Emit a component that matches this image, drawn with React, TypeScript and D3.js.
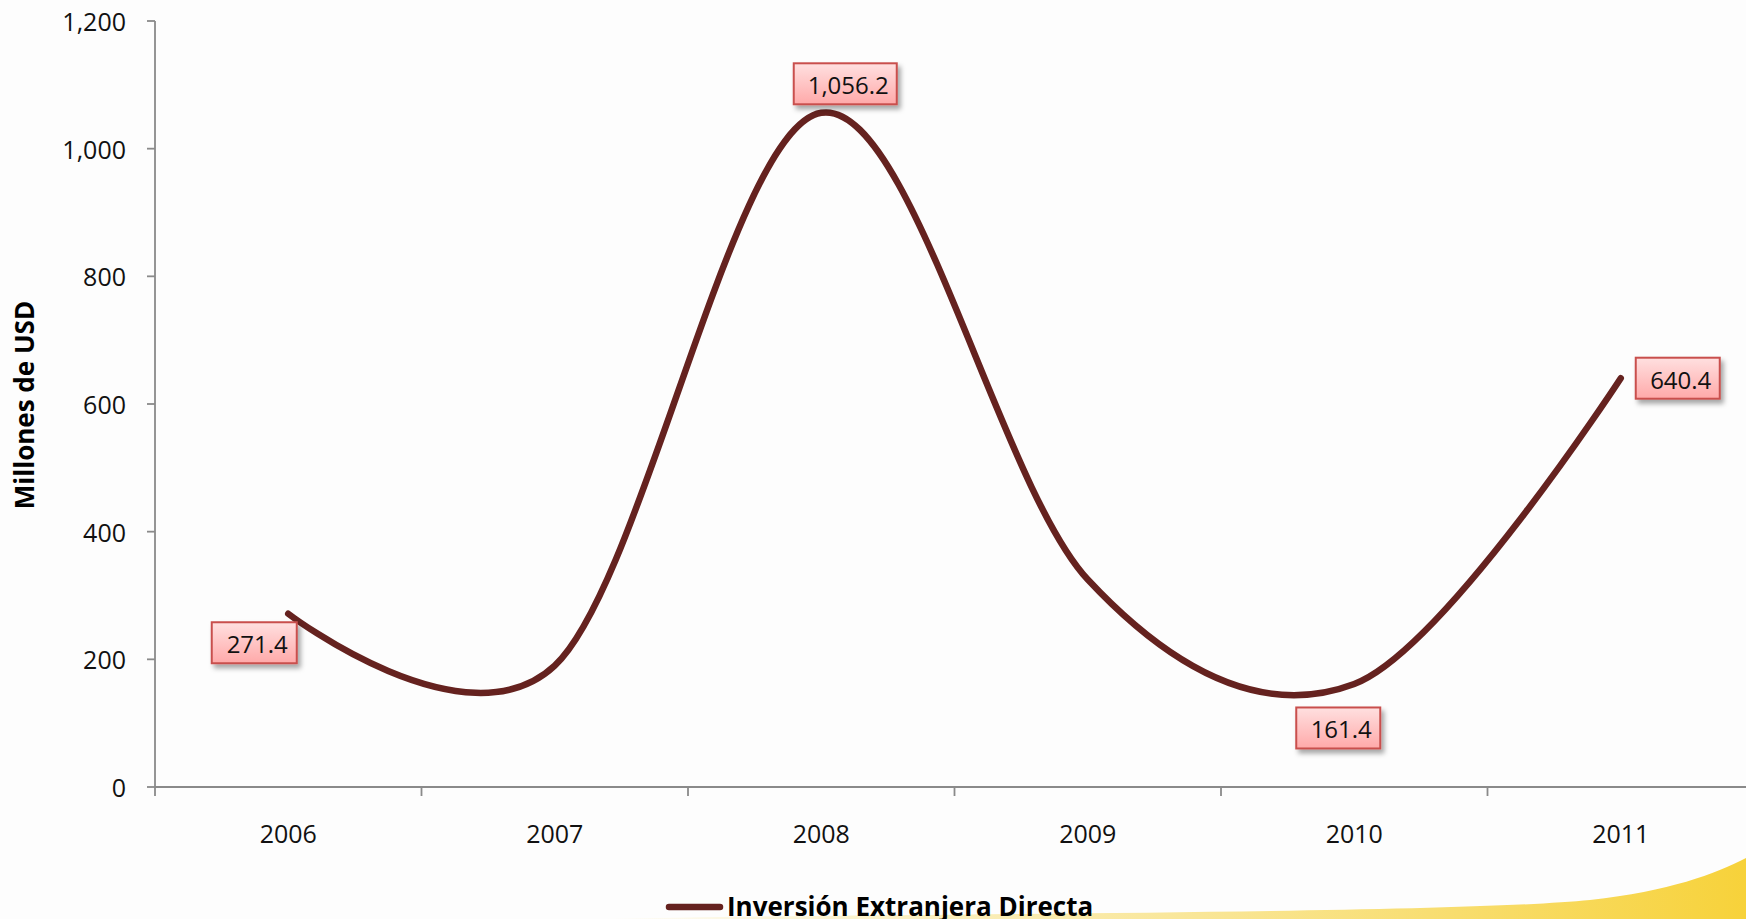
import React from "react";
import * as d3 from "d3";

const years = ["2006", "2007", "2008", "2009", "2010", "2011"];
const ied = [271.4, 190, 1056.2, 325, 161.4, 640.4];
const labeled = [true, false, true, false, true, true];
const yTicks = [0, 200, 400, 600, 800, 1000, 1200];
const seriesName = "Inversión Extranjera Directa";
const yTitle = "Millones de USD";

// label box layout (offset of box centre from point, box width)
const labelLayout = [
  { dx: -34, dy: 29, w: 85 },
  { dx: 0, dy: 0, w: 0 },
  { dx: 24, dy: -29, w: 103 },
  { dx: 0, dy: 0, w: 0 },
  { dx: -16, dy: 44, w: 84 },
  { dx: 57, dy: 0, w: 84 },
];

const W = 1746;
const H = 919;
const FONT = "'Open Sans', 'Noto Sans', sans-serif";
const LINE = "#65221f";
const AXIS = "#8a8a8a";

export default function App() {
  const x = d3.scaleBand<string>().domain(years).range([155, 155 + 6 * 266.5]).paddingInner(0).paddingOuter(0);
  const y = d3.scaleLinear().domain([0, 1200]).range([787, 21]);
  const cx = (i: number) => (x(years[i]) as number) + x.bandwidth() / 2;
  const line = d3
    .line<number>()
    .x((_, i) => cx(i))
    .y((d) => y(d))
    .curve(d3.curveCardinal.tension(0));
  const fmt = d3.format(",.1f");
  const tickFmt = d3.format(",");
  const x0 = x.range()[0];

  return (
    <svg width={W} height={H} style={{ position: "absolute", left: 0, top: 0, display: "block" }}>
      <defs>
        <linearGradient id="boxg" x1="0" y1="0" x2="0" y2="1">
          <stop offset="0" stopColor="#ffe0e0" />
          <stop offset="1" stopColor="#ffa9a9" />
        </linearGradient>
        <linearGradient id="yellow" x1="0" y1="0" x2="1" y2="0">
          <stop offset="0" stopColor="#f6d544" stopOpacity="0" />
          <stop offset="0.35" stopColor="#f6d85a" stopOpacity="0.45" />
          <stop offset="1" stopColor="#f7d23a" stopOpacity="1" />
        </linearGradient>
        <filter id="shadow" x="-20%" y="-20%" width="150%" height="160%">
          <feDropShadow dx="3" dy="4" stdDeviation="2.5" floodColor="#000" floodOpacity="0.35" />
        </filter>
      </defs>
      <rect x={0} y={0} width={W} height={H} fill="#fdfdfd" />
      <path
        d="M 600 919 C 900 913, 1450 914, 1590 900 C 1670 891, 1715 874, 1746 858 L 1746 919 Z"
        fill="url(#yellow)"
      />

      {/* Y axis */}
      <line x1={x0} x2={x0} y1={y(1200)} y2={y(0)} stroke={AXIS} strokeWidth={1.8} />
      {yTicks.map((t) => (
        <g key={t}>
          <line x1={x0 - 8} x2={x0} y1={y(t)} y2={y(t)} stroke={AXIS} strokeWidth={1.8} />
          <text
            x={126}
            y={y(t)}
            textAnchor="end"
            dominantBaseline="central"
            fontFamily={FONT}
            fontSize={25}
            fill="#111"
          >
            {tickFmt(t)}
          </text>
        </g>
      ))}

      {/* X axis */}
      <line x1={x0} x2={W} y1={y(0)} y2={y(0)} stroke={AXIS} strokeWidth={1.8} />
      {years.map((yr, i) => (
        <g key={yr}>
          <line
            x1={x(yr) as number}
            x2={x(yr) as number}
            y1={y(0)}
            y2={y(0) + 9}
            stroke={AXIS}
            strokeWidth={1.8}
          />
          <text x={cx(i)} y={833} textAnchor="middle" dominantBaseline="central" fontFamily={FONT} fontSize={25} fill="#111">
            {yr}
          </text>
        </g>
      ))}

      {/* Y title */}
      <text
        transform={`translate(24,405) rotate(-90)`}
        textAnchor="middle"
        dominantBaseline="central"
        fontFamily={FONT}
        fontWeight="bold"
        fontSize={26}
        fill="#000"
      >
        {yTitle}
      </text>

      {/* Series line */}
      <path d={line(ied) || ""} fill="none" stroke={LINE} strokeWidth={6.5} strokeLinecap="round" />

      {/* Data labels */}
      {ied.map((v, i) => {
        if (!labeled[i]) return null;
        const L = labelLayout[i];
        const bx = cx(i) + L.dx;
        const by = y(v) + L.dy;
        const h = 41;
        return (
          <g key={"lab" + i}>
            <rect
              x={bx - L.w / 2}
              y={by - h / 2}
              width={L.w}
              height={h}
              fill="url(#boxg)"
              stroke="#c9504d"
              strokeWidth={2}
              filter="url(#shadow)"
            />
            <text
              x={bx + 3}
              y={by + 1}
              textAnchor="middle"
              dominantBaseline="central"
              fontFamily={FONT}
              fontSize={24}
              fill="#111"
            >
              {fmt(v)}
            </text>
          </g>
        );
      })}

      {/* Legend */}
      <line x1={669} x2={720} y1={907} y2={907} stroke={LINE} strokeWidth={6.5} strokeLinecap="round" />
      <text x={727} y={916} fontFamily={FONT} fontWeight="bold" fontSize={26} fill="#000">
        {seriesName}
      </text>
    </svg>
  );
}
